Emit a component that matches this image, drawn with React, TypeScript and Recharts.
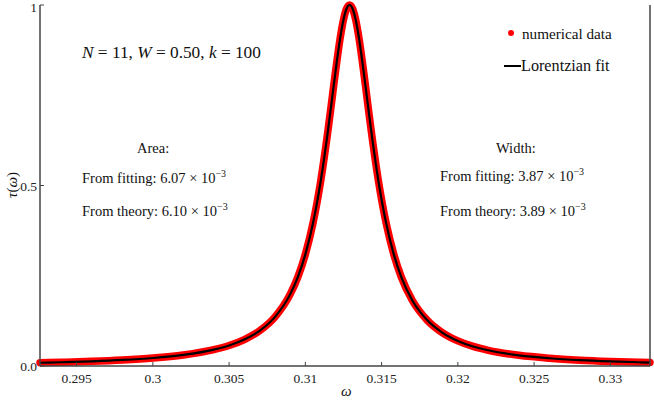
import { LineChart, Line, XAxis, YAxis } from "recharts";

// omega grid and tau(omega)
const omega = [
  0.2926, 0.294, 0.296, 0.298, 0.3, 0.302, 0.304, 0.305, 0.306, 0.307, 0.308, 0.309,
  0.3095, 0.31, 0.3105, 0.311, 0.3115, 0.3118, 0.312, 0.3123, 0.3125, 0.3127, 0.3129,
  0.3131, 0.3133, 0.3135, 0.3138, 0.314, 0.3143, 0.3148, 0.3153, 0.3158, 0.3163, 0.317,
  0.318, 0.319, 0.32, 0.321, 0.322, 0.324, 0.326, 0.328, 0.33, 0.332, 0.3326,
];
const numerical = [
  0.009, 0.0104, 0.013, 0.0167, 0.0221, 0.0307, 0.0454, 0.0569, 0.0733, 0.0976, 0.1355, 0.1984,
  0.2456, 0.3092, 0.3952, 0.5104, 0.6576, 0.7568, 0.8229, 0.9127, 0.9592, 0.9895, 1.0,
  0.9895, 0.9592, 0.9127, 0.8229, 0.7568, 0.6576, 0.5104, 0.3952, 0.3092, 0.2456, 0.1829,
  0.1264, 0.0919, 0.0695, 0.0542, 0.0435, 0.0296, 0.0215, 0.0162, 0.0127, 0.0102, 0.0096,
];
const lorentzFit = [
  0.009, 0.0104, 0.013, 0.0167, 0.0221, 0.0307, 0.0454, 0.0569, 0.0733, 0.0976, 0.1355, 0.1984,
  0.2456, 0.3092, 0.3952, 0.5104, 0.6576, 0.7568, 0.8229, 0.9127, 0.9592, 0.9895, 1.0,
  0.9895, 0.9592, 0.9127, 0.8229, 0.7568, 0.6576, 0.5104, 0.3952, 0.3092, 0.2456, 0.1829,
  0.1264, 0.0919, 0.0695, 0.0542, 0.0435, 0.0296, 0.0215, 0.0162, 0.0127, 0.0102, 0.0096,
];

const xTicks = [0.295, 0.3, 0.305, 0.31, 0.315, 0.32, 0.325, 0.33];
const xTickLabels = ["0.295", "0.3", "0.305", "0.31", "0.315", "0.32", "0.325", "0.33"];
const yTicks = [0, 0.5, 1];
const yTickLabels = ["0.0", "0.5", "1"];

const data = omega.map((w, i) => ({ w, tau: numerical[i], fit: lorentzFit[i] }));

const FONT = '"Liberation Serif", "DejaVu Serif", serif';
const AXIS = "#444";

function BottomTick(props: any) {
  const { x, y, index } = props;
  return (
    <g>
      <line x1={x} x2={x} y1={y} y2={y - 4} stroke={AXIS} strokeWidth={1} />
      <text x={x} y={y + 17} textAnchor="middle" fontFamily={FONT} fontSize={13.5} fill="#222">
        {xTickLabels[index]}
      </text>
    </g>
  );
}

function TopTick(props: any) {
  const { x, y } = props;
  return <line x1={x} x2={x} y1={y} y2={y + 4} stroke={AXIS} strokeWidth={1} />;
}

function LeftTick(props: any) {
  const { x, y, index } = props;
  // the top label sits a little lower so it stays inside the picture
  const dy = index === yTicks.length - 1 ? 7 : 5;
  return (
    <g>
      <line x1={x} x2={x + 4} y1={y} y2={y} stroke={AXIS} strokeWidth={1} />
      <text x={x - 3} y={y + dy} textAnchor="end" fontFamily={FONT} fontSize={13.5} fill="#222">
        {yTickLabels[index]}
      </text>
    </g>
  );
}

const txt: React.CSSProperties = {
  position: "absolute",
  fontFamily: FONT,
  fontSize: 15,
  color: "#111",
  whiteSpace: "nowrap",
  lineHeight: 1,
};

export default function App() {
  return (
    <div style={{ position: "absolute", left: 0, top: 0, width: 654, height: 401, background: "#fff" }}>
      <LineChart width={654} height={401} data={data} margin={{ top: 5, right: 0, bottom: 0, left: 0 }}>
        <XAxis
          dataKey="w"
          type="number"
          domain={[0.2926, 0.3326]}
          ticks={xTicks}
          height={35}
          tickSize={0}
          tickMargin={0}
          tickLine={false}
          axisLine={{ stroke: AXIS, strokeWidth: 1.5 }}
          tick={<BottomTick />}
          interval={0}
        />
        <XAxis
          xAxisId="top"
          orientation="top"
          dataKey="w"
          type="number"
          domain={[0.2926, 0.3326]}
          ticks={xTicks}
          height={0}
          tickSize={0}
          tickMargin={0}
          tickLine={false}
          axisLine={{ stroke: AXIS, strokeWidth: 1.5 }}
          tick={<TopTick />}
          interval={0}
        />
        <YAxis
          domain={[0, 1]}
          ticks={yTicks}
          width={40}
          tickSize={0}
          tickMargin={0}
          tickLine={false}
          axisLine={{ stroke: AXIS, strokeWidth: 1.5 }}
          tick={<LeftTick />}
          interval={0}
        />
        <YAxis
          yAxisId="right"
          orientation="right"
          domain={[0, 1]}
          width={4}
          tick={false}
          tickLine={false}
          axisLine={{ stroke: AXIS, strokeWidth: 1.5 }}
        />
        <Line
          type="monotone"
          dataKey="tau"
          stroke="#f00"
          strokeWidth={7.5}
          strokeLinecap="round"
          dot={false}
          isAnimationActive={false}
        />
        <Line
          type="monotone"
          dataKey="fit"
          stroke="#000"
          strokeWidth={2.2}
          dot={false}
          isAnimationActive={false}
        />
      </LineChart>

      <div style={{ ...txt, left: 82, top: 44, fontSize: 17.3 }}>
        <i>N</i> = 11, <i>W</i> = 0.50, <i>k</i> = 100
      </div>

      <div style={{ position: "absolute", left: 508, top: 30, width: 6, height: 6, borderRadius: 3, background: "#f00" }} />
      <div style={{ ...txt, left: 522, top: 26, fontSize: 15.2 }}>numerical data</div>
      <div style={{ position: "absolute", left: 504, top: 65, width: 17, height: 2, background: "#000" }} />
      <div style={{ ...txt, left: 521, top: 58, fontSize: 16.2 }}>Lorentzian fit</div>

      <div style={{ ...txt, left: 137, top: 141, fontSize: 14.5 }}>Area:</div>
      <div style={{ ...txt, left: 82, top: 169, fontSize: 14.5 }}>
        From fitting: 6.07 × 10<sup style={{ fontSize: 10 }}>−3</sup>
      </div>
      <div style={{ ...txt, left: 82, top: 202, fontSize: 14.5 }}>
        From theory: 6.10 × 10<sup style={{ fontSize: 10 }}>−3</sup>
      </div>

      <div style={{ ...txt, left: 496, top: 141, fontSize: 14.5 }}>Width:</div>
      <div style={{ ...txt, left: 440, top: 167, fontSize: 14.5 }}>
        From fitting: 3.87 × 10<sup style={{ fontSize: 10 }}>−3</sup>
      </div>
      <div style={{ ...txt, left: 440, top: 202, fontSize: 14.5 }}>
        From theory: 3.89 × 10<sup style={{ fontSize: 10 }}>−3</sup>
      </div>

      <div style={{ ...txt, left: 341, top: 384, fontSize: 15 }}>
        <i>ω</i>
      </div>
      <div
        style={{
          ...txt,
          left: 12,
          top: 185,
          fontSize: 15,
          transform: "translate(-50%, -50%) rotate(-90deg)",
        }}
      >
        <i>τ</i>(<i>ω</i>)
      </div>
    </div>
  );
}
